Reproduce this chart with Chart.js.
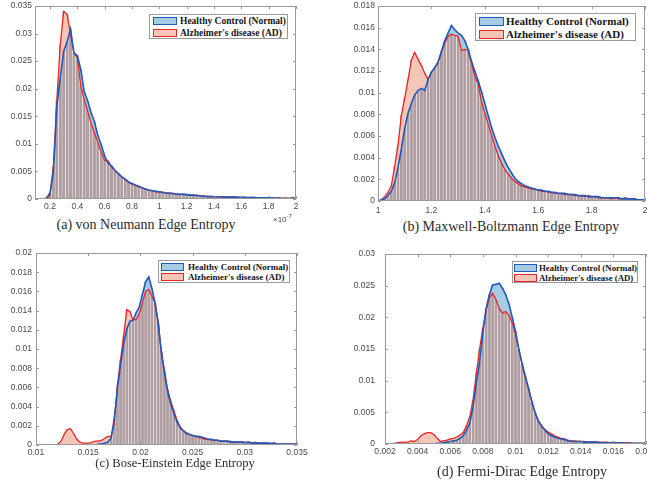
<!DOCTYPE html>
<html>
<head>
<meta charset="utf-8">
<script src="https://cdn.jsdelivr.net/npm/chart.js@4"></script>
<style>
  body { margin: 0; background: #fff; width: 647px; height: 484px; position: relative; overflow: hidden; }
  canvas { position: absolute; }
  .leg { position: absolute; border: 1px solid #9a9a9a; background: #fff; z-index: 2; box-sizing: border-box;
         font-family: 'Liberation Serif', 'Times New Roman', serif; font-weight: bold; color: #151515; }
  .patch { position: absolute; box-sizing: border-box; border-width: 1.5px; border-style: solid; }
  .ltxt { position: absolute; white-space: nowrap; }
  .ttl { position: absolute; font-family: 'Liberation Serif', 'Times New Roman', serif; color: #2b2b2b;
         white-space: nowrap; transform: translate(-50%, -50%); }
  .exp { position: absolute; font: 8px 'Liberation Sans', Arial, sans-serif; color: #444; z-index: 2; }
</style>
</head>
<body>
<canvas id="cA" width="310" height="216" style="left:0;top:0"></canvas>
<canvas id="cB" width="317" height="218" style="left:330px;top:0"></canvas>
<canvas id="cC" width="310" height="216" style="left:0;top:245px"></canvas>
<canvas id="cD" width="317" height="216" style="left:330px;top:245px"></canvas>

<div class="exp" style="left:273px;top:213px">&times;10<sup style="font-size:6px">-7</sup></div>

<div class="ttl" style="left:146px;top:225px;font-size:14px">(a) von Neumann Edge Entropy</div>
<div class="ttl" style="left:511px;top:227px;font-size:14px">(b) Maxwell-Boltzmann Edge Entropy</div>
<div class="ttl" style="left:175px;top:463px;font-size:12.5px">(c) Bose-Einstein Edge Entropy</div>
<div class="ttl" style="left:522px;top:472px;font-size:14px">(d) Fermi-Dirac Edge Entropy</div>

<script>
// 범례 문구
const legendLabels = ['Healthy Control (Normal)', "Alzheimer's disease (AD)"];

// (a) von Neumann (x 단위: 1e-7)
const xA = [0.1,0.125,0.15,0.175,0.2,0.225,0.25,0.275,0.3,0.325,
  0.35,0.375,0.4,0.425,0.45,0.475,0.5,0.525,0.55,0.575,
  0.6,0.625,0.65,0.675,0.7,0.725,0.75,0.775,0.8,0.825,
  0.85,0.875,0.9,0.925,0.95,0.975,1,1.025,1.05,1.075,
  1.1,1.125,1.15,1.175,1.2,1.225,1.25,1.275,1.3,1.325,
  1.35,1.375,1.4,1.425,1.45,1.475,1.5,1.525,1.55,1.575,
  1.6,1.625,1.65,1.675,1.7,1.725,1.75,1.775,1.8,1.825,
  1.85,1.875,1.9,1.925,1.95,1.975,2];
const hcA = [0,0,0,0.0002,0.0011,0.005,0.0168,0.022,0.0268,0.0285,
  0.0308,0.0265,0.026,0.0235,0.0195,0.0178,0.0157,0.014,0.0115,0.0098,
  0.0078,0.0065,0.006,0.0052,0.0046,0.004,0.0036,0.0031,0.0028,0.0025,
  0.0023,0.002,0.0018,0.0016,0.0015,0.0014,0.0013,0.0012,0.0011,0.001,
  0.001,0.0009,0.0008,0.0009,0.0008,0.0007,0.0007,0.0006,0.0006,0.0005,
  0.0004,0.0005,0.0004,0.0004,0.0004,0.0003,0.0004,0.0003,0.0004,0.0003,
  0.0003,0.0003,0.0002,0.0003,0.0002,0.0002,0.0002,0.0002,0.0002,0.0002,
  0.0001,0.0002,0.0001,0.0001,0.0001,0.0002,0.0001];
const adA = [0,0,0,0.0001,0.0006,0.006,0.018,0.028,0.034,0.0335,
  0.0299,0.0264,0.0257,0.0205,0.018,0.016,0.0138,0.012,0.0102,0.0085,
  0.007,0.0069,0.0058,0.0051,0.0046,0.004,0.0035,0.003,0.0027,0.0025,
  0.0022,0.002,0.0018,0.0016,0.0015,0.0013,0.0012,0.0012,0.0011,0.0011,
  0.001,0.0009,0.0009,0.0008,0.0008,0.0007,0.0007,0.0007,0.0006,0.0005,
  0.0005,0.0004,0.0004,0.0004,0.0004,0.0004,0.0003,0.0004,0.0003,0.0003,
  0.0003,0.0003,0.0003,0.0002,0.0003,0.0002,0.0002,0.0002,0.0002,0.0001,
  0.0002,0.0001,0.0001,0.0002,0.0001,0.0001,0.0001];
const xTicksA = [0.2,0.4,0.6,0.8,1,1.2,1.4,1.6,1.8,2];
const yTicksA = [0,0.005,0.01,0.015,0.02,0.025,0.03,0.035];

// (b) Maxwell-Boltzmann
const xB = [1,1.0125,1.025,1.0375,1.05,1.0625,1.075,1.0875,
  1.1,1.1125,1.125,1.1375,1.15,1.1625,1.175,1.1875,
  1.2,1.2125,1.225,1.2375,1.25,1.2625,1.275,1.2875,
  1.3,1.3125,1.325,1.3375,1.35,1.3625,1.375,1.3875,
  1.4,1.4125,1.425,1.4375,1.45,1.4625,1.475,1.4875,
  1.5,1.5125,1.525,1.5375,1.55,1.5625,1.575,1.5875,
  1.6,1.6125,1.625,1.6375,1.65,1.6625,1.675,1.6875,
  1.7,1.7125,1.725,1.7375,1.75,1.7625,1.775,1.7875,
  1.8,1.8125,1.825,1.8375,1.85,1.8625,1.875,1.8875,
  1.9,1.9125,1.925,1.9375,1.95,1.9625,1.975,1.9875,2];
const hcB = [0,0.0001,0.0002,0.0005,0.0009,0.0017,0.0031,0.0048,
  0.0067,0.0081,0.009,0.0098,0.0102,0.0104,0.0102,0.0112,
  0.0119,0.0123,0.0128,0.0138,0.0148,0.0155,0.0162,0.0158,
  0.0155,0.0153,0.0148,0.014,0.0129,0.012,0.0111,0.0101,
  0.009,0.0079,0.0068,0.0059,0.0051,0.0044,0.0037,0.0031,
  0.0026,0.0021,0.0018,0.0016,0.0014,0.0013,0.0012,0.0011,
  0.001,0.001,0.0009,0.0009,0.0008,0.0008,0.0007,0.0007,
  0.0007,0.0006,0.0006,0.0006,0.0005,0.0005,0.0005,0.0004,
  0.0004,0.0004,0.0004,0.0003,0.0003,0.0003,0.0003,0.0003,
  0.0003,0.0002,0.0002,0.0002,0.0002,0.0002,0.0001,0.0001,0.0001];
const adB = [0,0.0001,0.0004,0.0008,0.0014,0.0032,0.0052,0.0079,
  0.0095,0.0112,0.013,0.0137,0.0131,0.0125,0.0118,0.0112,
  0.0119,0.0123,0.0128,0.0137,0.0146,0.0152,0.0154,0.0153,
  0.0152,0.0139,0.014,0.0139,0.0127,0.0115,0.0108,0.0092,
  0.0081,0.0071,0.0061,0.0051,0.0042,0.0035,0.0029,0.0025,
  0.0021,0.0018,0.0016,0.0014,0.0013,0.0012,0.0011,0.0011,
  0.001,0.0009,0.0009,0.0008,0.0008,0.0007,0.0007,0.0007,
  0.0006,0.0006,0.0006,0.0005,0.0005,0.0005,0.0004,0.0005,
  0.0004,0.0004,0.0003,0.0003,0.0003,0.0003,0.0002,0.0003,
  0.0002,0.0002,0.0003,0.0002,0.0002,0.0001,0.0001,0.0001,0.0001];
const xTicksB = [1,1.2,1.4,1.6,1.8,2];
const yTicksB = [0,0.002,0.004,0.006,0.008,0.01,0.012,0.014,0.016,0.018];

// (c) Bose-Einstein
const xC = [0.01,0.0103,0.0106,0.0109,0.0112,0.0115,0.0118,0.0121,0.0124,0.0127,
  0.013,0.0133,0.0136,0.0139,0.0142,0.0145,0.0148,0.0151,0.0154,0.0157,
  0.016,0.0163,0.0166,0.0169,0.0172,0.0175,0.0178,0.0181,0.0184,0.0187,
  0.019,0.0193,0.0196,0.0199,0.0202,0.0205,0.0208,0.0211,0.0214,0.0217,
  0.022,0.0223,0.0226,0.0229,0.0232,0.0235,0.0238,0.0241,0.0244,0.0247,
  0.025,0.0253,0.0256,0.0259,0.0262,0.0265,0.0268,0.0271,0.0274,0.0277,
  0.028,0.0283,0.0286,0.0289,0.0292,0.0295,0.0298,0.0301,0.0304,0.0307,
  0.031,0.0313,0.0316,0.0319,0.0322,0.0325,0.0328,0.0331,0.0334,0.0337,
  0.034,0.0343,0.0346,0.0349];
const hcC = [0,0,0,0,0,0,0,0,0,0,
  0,0,0,0,0,0,0,0,0,0,
  0.0001,0.0001,0.0002,0.0003,0.0007,0.0028,0.0058,0.0084,0.0105,0.0121,
  0.0129,0.013,0.0138,0.0144,0.0157,0.017,0.0175,0.0163,0.0148,0.0127,
  0.0097,0.0075,0.0056,0.0043,0.0033,0.0024,0.0018,0.0015,0.0012,0.0011,
  0.001,0.0009,0.0009,0.0008,0.0007,0.0006,0.0006,0.0005,0.0005,0.0004,
  0.0004,0.0004,0.0003,0.0003,0.0003,0.0003,0.0003,0.0002,0.0003,0.0002,
  0.0002,0.0002,0.0002,0.0002,0.0002,0.0001,0.0002,0.0001,0.0001,0.0001,
  0.0001,0.0001,0.0001,0.0001];
const adC = [0,0,0,0,0,0,0,0.0001,0.0004,0.0011,
  0.0016,0.0017,0.0012,0.0006,0.0003,0.0002,0.0002,0.0002,0.0003,0.0004,
  0.0004,0.0005,0.0007,0.0009,0.0009,0.0022,0.0062,0.0089,0.0114,0.0141,
  0.0139,0.013,0.0131,0.0137,0.0148,0.016,0.0162,0.0155,0.0148,0.0128,
  0.0098,0.0078,0.0058,0.0046,0.0036,0.0026,0.0019,0.0015,0.0013,0.0011,
  0.001,0.0009,0.0008,0.0007,0.0006,0.0006,0.0005,0.0005,0.0005,0.0004,
  0.0004,0.0004,0.0004,0.0003,0.0003,0.0003,0.0003,0.0003,0.0003,0.0002,
  0.0003,0.0002,0.0002,0.0002,0.0002,0.0002,0.0002,0.0001,0.0001,0.0001,
  0.0001,0.0001,0.0001,0.0001];
const xTicksC = [0.01,0.015,0.02,0.025,0.03,0.035];
const yTicksC = [0,0.002,0.004,0.006,0.008,0.01,0.012,0.014,0.016,0.018,0.02];

// (d) Fermi-Dirac
const xD = [0.002,0.0022,0.0024,0.0026,0.0028,0.003,0.0032,0.0034,0.0036,0.0038,
  0.004,0.0042,0.0044,0.0046,0.0048,0.005,0.0052,0.0054,0.0056,0.0058,
  0.006,0.0062,0.0064,0.0066,0.0068,0.007,0.0072,0.0074,0.0076,0.0078,
  0.008,0.0082,0.0084,0.0086,0.0088,0.009,0.0092,0.0094,0.0096,0.0098,
  0.01,0.0102,0.0104,0.0106,0.0108,0.011,0.0112,0.0114,0.0116,0.0118,
  0.012,0.0122,0.0124,0.0126,0.0128,0.013,0.0132,0.0134,0.0136,0.0138,
  0.014,0.0142,0.0144,0.0146,0.0148,0.015,0.0152,0.0154,0.0156,0.0158,
  0.016,0.0162,0.0164,0.0166,0.0168,0.017,0.0172,0.0174,0.0176,0.0178,
  0.018];
const hcD = [0,0,0,0,0,0,0,0,0,0,
  0,0,0,0,0,0,0.0001,0.0001,0.0002,0.0003,
  0.0004,0.0005,0.0006,0.0009,0.0013,0.0022,0.0033,0.0059,0.0096,0.013,
  0.0176,0.0214,0.0236,0.0251,0.0252,0.0254,0.0246,0.0236,0.0221,0.02,
  0.0178,0.015,0.0127,0.0107,0.0088,0.0067,0.0049,0.0036,0.0028,0.0022,
  0.0016,0.0013,0.0011,0.0009,0.0008,0.0007,0.0005,0.0004,0.0004,0.0004,
  0.0004,0.0003,0.0003,0.0003,0.0003,0.0003,0.0002,0.0002,0.0002,0.0002,
  0.0002,0.0002,0.0002,0.0001,0.0001,0.0001,0.0001,0.0001,0.0001,0.0001,
  0.0001];
const adD = [0,0,0,0.0001,0.0002,0.0003,0.0003,0.0003,0.0005,0.0004,
  0.0007,0.0013,0.0016,0.0018,0.0018,0.0015,0.0009,0.0004,0.0005,0.0006,
  0.0008,0.0009,0.0011,0.0014,0.0018,0.0029,0.0043,0.007,0.0112,0.015,
  0.0183,0.021,0.0231,0.0238,0.0228,0.0214,0.0207,0.0209,0.0203,0.0192,
  0.0173,0.015,0.0126,0.0105,0.0086,0.0067,0.005,0.0037,0.0029,0.0023,
  0.0019,0.0016,0.0013,0.0011,0.0009,0.0008,0.0006,0.0005,0.0005,0.0004,
  0.0004,0.0004,0.0003,0.0003,0.0003,0.0003,0.0003,0.0003,0.0003,0.0002,
  0.0003,0.0002,0.0002,0.0002,0.0002,0.0002,0.0001,0.0001,0.0001,0.0001,
  0.0001];
const xTicksD = [0.002,0.004,0.006,0.008,0.01,0.012,0.014,0.016,0.018];
const yTicksD = [0,0.005,0.01,0.015,0.02,0.025,0.03];

const BLUE = 'rgb(32,88,188)';
const RED = 'rgb(236,36,36)';
const BLUE_FILL = 'rgb(165,204,227)';
const RED_FILL = 'rgb(243,198,184)';
const BAR = 'rgb(176,158,161)';
const AXIS = '#999';

// MATLAB 느낌의 박스 + 안쪽 눈금
const boxPlugin = {
  id: 'matlabBox',
  afterDraw(chart) {
    const { ctx, chartArea: a, scales: { x, y } } = chart;
    ctx.save();
    ctx.strokeStyle = AXIS;
    ctx.lineWidth = 1;
    ctx.strokeRect(a.left + 0.5, a.top + 0.5, a.right - a.left - 1, a.bottom - a.top - 1);
    ctx.beginPath();
    x.ticks.forEach(t => {
      const px = Math.round(x.getPixelForValue(t.value)) + 0.5;
      ctx.moveTo(px, a.bottom); ctx.lineTo(px, a.bottom - 3);
      ctx.moveTo(px, a.top); ctx.lineTo(px, a.top + 3);
    });
    y.ticks.forEach(t => {
      const py = Math.round(y.getPixelForValue(t.value)) + 0.5;
      ctx.moveTo(a.left, py); ctx.lineTo(a.left + 3, py);
      ctx.moveTo(a.right, py); ctx.lineTo(a.right - 3, py);
    });
    ctx.stroke();
    ctx.restore();
  }
};

const fmt = v => String(+v.toFixed(6));
const tickFont = { family: "'Liberation Sans', Arial, sans-serif", size: 8.5 };

function makeChart(id, c) {
  const el = document.getElementById(id);
  return new Chart(el.getContext('2d'), {
    type: 'line',
    data: {
      labels: c.xs,
      datasets: [
        { type: 'line', label: legendLabels[0], data: c.hc, borderColor: BLUE, borderWidth: 1.6,
          pointRadius: 0, tension: 0, fill: false, order: 1 },
        { type: 'line', label: legendLabels[1], data: c.ad, borderColor: RED, borderWidth: 1.3,
          pointRadius: 0, tension: 0, fill: { target: 0, above: RED_FILL, below: BLUE_FILL }, order: 2 },
        { type: 'bar', data: c.hc, backgroundColor: BAR, barPercentage: 0.76, categoryPercentage: 1,
          grouped: false, order: 3 },
        { type: 'bar', data: c.ad, backgroundColor: BAR, barPercentage: 0.76, categoryPercentage: 1,
          grouped: false, order: 4 }
      ]
    },
    options: {
      responsive: false,
      animation: false,
      layout: { padding: { left: 0, bottom: 0, top: c.pt, right: c.pr } },
      plugins: { legend: { display: false }, tooltip: { enabled: false } },
      scales: {
        x: {
          type: 'linear', min: c.xMin, max: c.xMax, offset: false,
          grid: { display: false, drawTicks: false }, border: { display: false },
          afterBuildTicks: s => { s.ticks = c.xTicks.map(v => ({ value: v })); },
          afterFit: s => { s.height = c.xh; s.paddingLeft = 0; s.paddingRight = 0; },
          ticks: { callback: fmt, font: tickFont, color: '#4a4a4a', padding: c.xPad,
                   maxRotation: 0, autoSkip: false }
        },
        y: {
          type: 'linear', min: 0, max: c.yMax,
          grid: { display: false, drawTicks: false }, border: { display: false },
          afterBuildTicks: s => { s.ticks = c.yTicks.map(v => ({ value: v })); },
          afterFit: s => { s.width = c.yw; s.paddingTop = 0; s.paddingBottom = 0; },
          ticks: { callback: fmt, font: tickFont, color: '#4a4a4a', padding: c.yPad }
        }
      }
    },
    plugins: [boxPlugin]
  });
}

makeChart('cA', { xs: xA, hc: hcA, ad: adA, xMin: 0.09, xMax: 2, xTicks: xTicksA, yMax: 0.035, yTicks: yTicksA,
  yw: 35, pt: 6, pr: 14, xh: 17, yPad: 3, xPad: 3 });
makeChart('cB', { xs: xB, hc: hcB, ad: adB, xMin: 1, xMax: 2, xTicks: xTicksB, yMax: 0.018, yTicks: yTicksB,
  yw: 48, pt: 6, pr: 2, xh: 17, yPad: 3, xPad: 5 });
makeChart('cC', { xs: xC, hc: hcC, ad: adC, xMin: 0.01, xMax: 0.035, xTicks: xTicksC, yMax: 0.02, yTicks: yTicksC,
  yw: 36, pt: 8, pr: 13, xh: 16, yPad: 4, xPad: 3 });
makeChart('cD', { xs: xD, hc: hcD, ad: adD, xMin: 0.002, xMax: 0.018, xTicks: xTicksD, yMax: 0.03, yTicks: yTicksD,
  yw: 55, pt: 9, pr: 1, xh: 17, yPad: 10, xPad: 3 });

// 범례 (플롯 안쪽 오른쪽 위)
const legends = [
  { x: 149, y: 14, w: 139, h: 25, fs: 9.5, px: 3, pw: 24, ph: 8, rows: [2, 14], tx: 30 },
  { x: 475, y: 13, w: 161, h: 28, fs: 11, px: 3, pw: 25, ph: 9, rows: [3, 16], tx: 30 },
  { x: 158, y: 260, w: 132, h: 23, fs: 9, px: 2, pw: 23, ph: 8, rows: [2, 12], tx: 29 },
  { x: 512, y: 261, w: 126, h: 22, fs: 8.8, px: 1, pw: 23, ph: 8, rows: [2, 12], tx: 26 }
];
legends.forEach(L => {
  const box = document.createElement('div');
  box.className = 'leg';
  Object.assign(box.style, { left: L.x + 'px', top: L.y + 'px', width: L.w + 'px', height: L.h + 'px', fontSize: L.fs + 'px' });
  [[BLUE_FILL, BLUE], [RED_FILL, RED]].forEach(([fill, line], i) => {
    const p = document.createElement('div');
    p.className = 'patch';
    Object.assign(p.style, { left: L.px + 'px', top: L.rows[i] + 'px', width: L.pw + 'px', height: L.ph + 'px',
      background: fill, borderColor: line });
    const t = document.createElement('div');
    t.className = 'ltxt';
    t.textContent = legendLabels[i];
    Object.assign(t.style, { left: L.tx + 'px', top: (L.rows[i] - 2) + 'px', lineHeight: (L.ph + 4) + 'px' });
    box.appendChild(p);
    box.appendChild(t);
  });
  document.body.appendChild(box);
});
</script>
</body>
</html>
